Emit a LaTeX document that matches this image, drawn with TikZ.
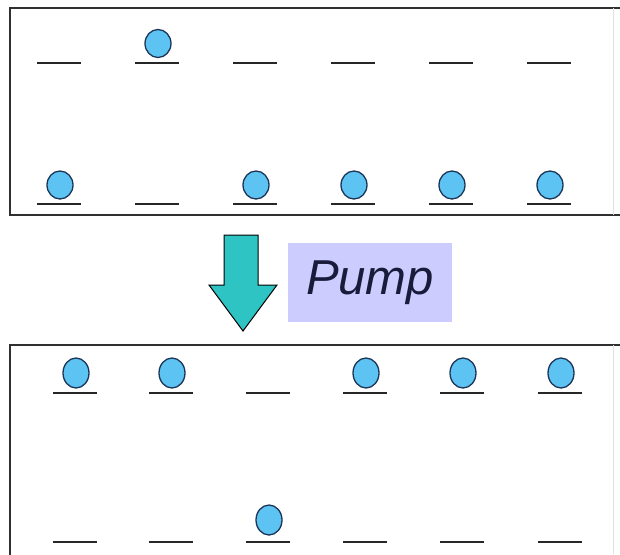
\documentclass[tikz,border=0pt]{standalone}
\usepackage{fontspec}
\setsansfont{Liberation Sans}
\usetikzlibrary{shapes.geometric}
\definecolor{ionfill}{HTML}{5CC3F2}
\definecolor{ionline}{HTML}{1C3557}
\definecolor{pumpteal}{HTML}{2FC4C4}
\definecolor{pumpbg}{HTML}{CCCCFF}
\definecolor{frameink}{HTML}{303030}
\definecolor{labelink}{HTML}{1A1A3A}

\begin{document}
\begin{tikzpicture}[x=1pt,y=-1pt,
  site/.style={line width=2pt,black!85},
  ion/.style={ellipse,draw=ionline,fill=ionfill,line width=1.3pt,minimum width=26pt,minimum height=28pt,inner sep=0pt},
  frame/.style={line width=1.6pt,frameink}]
\useasboundingbox (0,0) rectangle (620,554);
% before pumping
\draw[frame] (620,8) -- (10,8) -- (10,215) -- (620,215);
\draw[black!12] (613,8) -- (613,215);
\foreach \x/\up/\lo [count=\i] in {59/0/1,157/1/0,255/0/1,353/0/1,451/0/1,549/0/1} {
 \draw[site] (\x-22,63) -- (\x+22,63);
 \draw[site] (\x-22,204) -- (\x+22,204);
 \ifnum\up=1 \node[ion] (up\i) at (\x+1,43.5) {}; \fi
 \ifnum\lo=1 \node[ion] (lo\i) at (\x+1,185) {}; \fi
}
% pump step
\filldraw[fill=pumpteal,draw=black,line width=1pt,line join=miter]
 (224,235) -- (258,235) -- (258,285) -- (277,285) -- (243,331) -- (209,285) -- (224,285) -- cycle;
\node[fill=pumpbg,minimum width=164,minimum height=79,inner sep=0pt,text=labelink,
 font=\sffamily\itshape\fontsize{49}{50}\selectfont] (pump) at (370,282.5) {Pump};
% after pumping
\draw[frame] (620,345) -- (10,345) -- (10,556) -- (620,556);
\draw[black!12] (613,345) -- (613,554);
\foreach \x/\up/\lo [count=\i] in {75/1/0,171/1/0,268/0/1,365/1/0,462/1/0,560/1/0} {
 \draw[site] (\x-22,393) -- (\x+22,393);
 \draw[site] (\x-22,542) -- (\x+22,542);
 \ifnum\up=1 \node[ion,minimum height=30pt] (pup\i) at (\x+1,373) {}; \fi
 \ifnum\lo=1 \node[ion,minimum height=30pt] (plo\i) at (\x+1,520) {}; \fi
}
\end{tikzpicture}
\end{document}
